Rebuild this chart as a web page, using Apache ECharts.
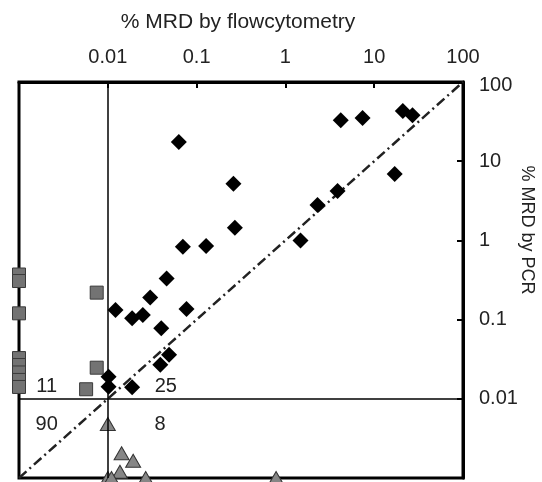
<!DOCTYPE html>
<html>
<head>
<meta charset="utf-8">
<script src="https://cdn.jsdelivr.net/npm/echarts@6/dist/echarts.min.js"></script>
<style>
  html, body { margin: 0; padding: 0; background: #fff; }
  #chart { width: 542px; height: 482px; }
</style>
</head>
<body>
<div id="chart"></div>
<script>
// tick labels from 0.001 up to 100 (0.001 is left blank, as in the figure)
const tickLabels = ['', '0.01', '0.1', '1', '10', '100']

// PCR+ / flow+ patients (black diamonds), [flow %, PCR %]
const diamondPoints = [
  [0.063, 17.5], [0.26, 5.2], [0.27, 1.44], [0.070, 0.83], [0.128, 0.85],
  [1.48, 1.0], [2.3, 2.8], [3.87, 4.2], [4.2, 33], [7.4, 35],
  [17, 6.9], [21, 43], [27, 38], [0.046, 0.33], [0.030, 0.19],
  [0.0122, 0.132], [0.0188, 0.104], [0.0248, 0.114], [0.077, 0.136], [0.040, 0.078],
  [0.049, 0.036], [0.039, 0.027], [0.0102, 0.019], [0.0102, 0.0142], [0.0188, 0.014]
]

// PCR+ / flow- (grey squares)
const squarePoints = [
  [0.001, 0.371], [0.001, 0.307], [0.001, 0.120],
  [0.001, 0.0327], [0.001, 0.0267], [0.001, 0.0215], [0.001, 0.0173], [0.001, 0.0141],
  [0.0075, 0.219], [0.0075, 0.0247], [0.0057, 0.0132]
]

// PCR- / flow+ (grey triangles)
const trianglePoints = [
  [0.01, 0.0048], [0.0143, 0.00205], [0.0193, 0.00165], [0.0137, 0.0012],
  [0.01, 0.001], [0.011, 0.001], [0.0267, 0.001], [0.785, 0.001]
]

// line of identity and the 0.01 % cut-offs
const identityLine = [[0.001, 0.001], [100, 100]]
const cutoff = 0.01

// patient counts per quadrant
const countText = ['11', '25', '90', '8']
const countX = [0.00205, 0.045, 0.00205, 0.0387]
const countY = [0.0145, 0.0142, 0.0048, 0.0048]

const FONT = "'Liberation Sans', Arial, sans-serif"
const TEXT = '#222'

const logLabel = v => tickLabels[Math.round(Math.log10(v)) + 3] || ''

const chart = echarts.init(document.getElementById('chart'), null, { renderer: 'canvas' })

chart.setOption({
  animation: false,
  backgroundColor: '#fff',
  textStyle: { fontFamily: FONT },
  grid: {
    left: 19, right: 79, top: 82, bottom: 4,
    show: true, borderColor: '#000', borderWidth: 3
  },
  xAxis: {
    type: 'log', logBase: 10, min: 0.001, max: 100,
    position: 'top',
    name: '% MRD by flowcytometry',
    nameLocation: 'middle',
    nameGap: 49,
    nameTextStyle: { fontSize: 21, color: TEXT, fontFamily: FONT, padding: [0, 6, 0, 0] },
    axisLine: { lineStyle: { color: '#000', width: 3 } },
    axisTick: { inside: true, length: 6, lineStyle: { color: '#000', width: 2 } },
    minorTick: { show: false },
    splitLine: { show: false },
    axisLabel: { formatter: logLabel, margin: 15, fontSize: 20, color: TEXT, fontFamily: FONT }
  },
  yAxis: {
    type: 'log', logBase: 10, min: 0.001, max: 100,
    position: 'right',
    axisLine: { lineStyle: { color: '#000', width: 3 } },
    axisTick: { inside: true, length: 6, lineStyle: { color: '#000', width: 2 } },
    minorTick: { show: false },
    splitLine: { show: false },
    axisLabel: {
      formatter: v => {
        const s = logLabel(v)
        return s === '100' ? '{top|' + s + '}' : s
      },
      rich: { top: { padding: [6, 0, 0, 0], fontSize: 20, color: TEXT, fontFamily: FONT } },
      margin: 16, fontSize: 20, color: TEXT, fontFamily: FONT
    }
  },
  graphic: [{
    type: 'text',
    x: 527, y: 230,
    rotation: -Math.PI / 2,
    style: {
      text: '% MRD by PCR',
      fontSize: 18, fontFamily: FONT, fill: TEXT,
      align: 'center', verticalAlign: 'middle'
    }
  }],
  series: [
    {
      type: 'line',
      data: identityLine,
      symbol: 'none',
      z: 1,
      lineStyle: { color: '#222', width: 2.5, type: [10, 4, 2, 4] },
      markLine: {
        silent: true,
        symbol: 'none',
        label: { show: false },
        lineStyle: { color: '#000', width: 1.5, type: 'solid' },
        data: [{ xAxis: cutoff }, { yAxis: cutoff }]
      }
    },
    {
      type: 'scatter',
      data: squarePoints,
      symbol: 'rect',
      symbolSize: 13,
      clip: false,
      z: 3,
      itemStyle: { color: '#737373', borderColor: '#3a3a3a', borderWidth: 1, opacity: 1 }
    },
    {
      type: 'scatter',
      data: trianglePoints,
      symbol: 'triangle',
      symbolSize: [15, 13],
      clip: false,
      z: 3,
      itemStyle: { color: '#868686', borderColor: '#333', borderWidth: 1, opacity: 1 }
    },
    {
      type: 'scatter',
      data: diamondPoints,
      symbol: 'diamond',
      symbolSize: 16,
      clip: false,
      z: 4,
      itemStyle: { color: '#000', opacity: 1 }
    },
    {
      type: 'scatter',
      data: countText.map((t, i) => [countX[i], countY[i], t]),
      symbolSize: 1,
      silent: true,
      z: 5,
      itemStyle: { color: '#fff', opacity: 0 },
      label: {
        show: true, position: 'inside',
        formatter: p => p.value[2],
        fontSize: 20, color: TEXT, fontFamily: FONT,
        textBorderWidth: 0, opacity: 1
      }
    }
  ]
})
</script>
</body>
</html>
